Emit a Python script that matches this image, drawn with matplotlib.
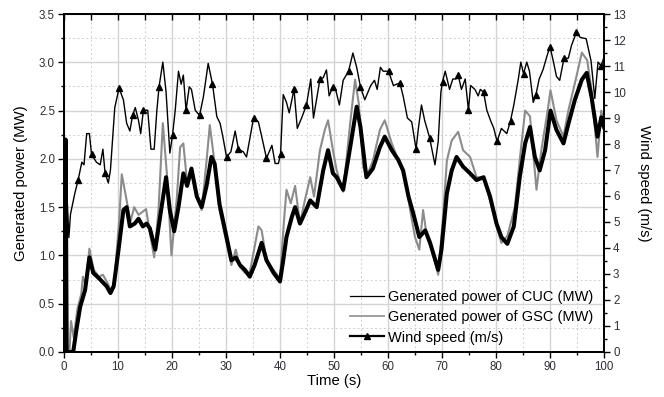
#! python3
# wind_power.py - generated power of CUC / GSC against wind speed over 100 s

import matplotlib
matplotlib.use('Agg')
import matplotlib.pyplot as plt
import matplotlib.ticker as ticker
from matplotlib.lines import Line2D

# wind speed (m/s)
wind_t = [0, 0.5, 0.9, 1.2, 2.0, 2.6, 3.3, 3.7, 4.2, 4.7, 5.1, 6.0, 6.7, 7.2, 7.6, 8.2, 8.6, 9.4,
          10.2, 11.0, 11.6, 12.2, 12.7, 13.2, 13.8, 14.2, 14.7, 15.5, 16.1, 16.7, 17.2, 17.6, 18.3,
          18.9, 19.6, 20.1, 20.6, 21.2, 21.7, 22.1, 22.6, 23.2, 23.6, 24.3, 25.1, 25.8, 26.7, 27.5,
          28.3, 28.9, 29.4, 30.1, 30.9, 31.7, 32.3, 33.2, 33.8, 35.1, 36.0, 36.6, 37.5, 38.5, 39.1,
          39.7, 40.1, 40.6, 41.2, 41.7, 42.6, 43.2, 44.0, 44.9, 45.7, 46.2, 47.0, 47.4, 48.0, 48.6,
          49.1, 49.8, 50.3, 51.0, 51.7, 52.7, 53.5, 54.2, 54.9, 55.7, 56.8, 57.5, 58.0, 58.6, 59.1,
          60.1, 61.0, 62.2, 62.8, 63.6, 64.4, 65.2, 65.6, 66.2, 66.8, 67.7, 68.7, 69.3, 69.8, 70.1,
          70.6, 71.4, 72.0, 72.6, 73.0, 73.6, 74.3, 74.9, 75.3, 76.1, 76.7, 77.1, 77.7, 78.3, 79.0,
          79.6, 80.2, 81.0, 82.0, 82.7, 83.3, 84.1, 84.6, 85.1, 85.7, 86.2, 86.9, 87.4, 88.0, 88.7,
          89.4, 90.0, 90.6, 91.2, 91.8, 92.6, 93.4, 94.0, 94.9, 95.6, 96.7, 97.6, 98.3, 98.9, 99.5, 100]
wind = [6.5, 6.3, 4.4, 5.3, 6.1, 6.6, 7.3, 7.2, 8.4, 8.4, 7.6, 7.3, 7.2, 7.8, 6.9, 6.5, 7.0, 9.4,
        10.15, 9.7, 8.8, 8.5, 9.1, 9.4, 8.9, 8.4, 9.3, 9.3, 7.8, 7.8, 9.3, 10.2, 11.15,
        10.0, 7.65, 8.35, 9.3, 10.8, 10.3, 10.65, 9.3, 10.2, 10.1, 9.3, 9.1, 9.8, 11.1, 10.3,
        9.05, 8.8, 8.3, 7.5, 7.7, 8.5, 7.8, 7.7, 7.5, 9.0, 8.85, 8.3, 7.45, 7.95, 7.25,
        7.25, 7.6, 9.9, 9.6, 9.2, 10.1, 8.6, 9.0, 9.5, 10.5, 9.0, 10.0, 10.5, 10.55, 10.85,
        9.85, 10.2, 10.1, 9.5, 10.45, 10.8, 11.5, 10.95, 10.2, 9.7, 10.25, 10.45, 10.1, 10.95, 10.8,
        10.8, 10.25, 10.35, 9.85, 9.0, 8.85, 7.8, 8.55, 9.5, 8.9, 8.25, 7.2, 8.1, 10.0, 10.4,
        10.8, 10.1, 10.5, 10.5, 10.65, 10.1, 10.5, 9.3, 10.25, 10.1, 9.85, 10.1, 10.0, 9.3, 8.9,
        8.6, 8.1, 8.6, 8.4, 8.9, 9.5, 10.45, 11.15, 10.7, 11.15, 10.8, 9.6, 9.9, 10.5, 10.85,
        11.35, 11.75, 11.2, 10.6, 10.45, 11.3, 11.3, 11.8, 12.3, 12.1, 12.05, 11.2, 9.75, 11.15, 11.0, 11.35]
# times where the triangle markers sit
wind_marks = [2.6, 5.1, 7.6, 10.2, 12.7, 14.7, 17.6, 20.1, 22.6, 25.1, 27.5, 30.1, 32.3, 35.1,
              37.5, 40.1, 42.6, 44.9, 47.4, 49.8, 52.7, 54.9, 60.1, 62.2, 65.2, 67.7, 70.1, 73.0,
              74.9, 77.7, 80.2, 82.7, 85.1, 87.4, 90.0, 92.6, 94.9, 99.5]

# generated power of CUC (MW)
cuc_t = [0, 0.3, 0.5, 1.7, 2.3, 3.0, 3.9, 4.7, 5.4, 6.7, 7.9, 8.6, 9.2, 10.1, 11.0, 11.6, 12.2,
         13.1, 13.8, 14.6, 15.3, 15.9, 16.9, 17.8, 18.9, 19.6, 20.4, 21.2, 22.1, 22.8, 23.6, 24.6,
         25.5, 26.4, 27.3, 27.9, 28.8, 30.1, 31.0, 31.8, 32.6, 33.5, 34.4, 35.3, 36.6, 37.5, 38.8,
         40.0, 40.6, 41.2, 42.2, 42.8, 43.7, 44.6, 45.6, 46.8, 48.0, 48.9, 49.8, 50.5, 51.7, 53.0,
         54.2, 54.9, 56.0, 57.2, 58.5, 59.4, 60.7, 61.9, 62.8, 63.8, 64.7, 65.8, 66.9, 67.8, 69.3,
         69.9, 70.9, 71.8, 72.7, 73.9, 75.2, 76.4, 77.7, 78.9, 80.1, 81.0, 82.1, 83.3, 84.4, 85.4,
         86.3, 87.2, 88.1, 89.1, 90.1, 91.2, 92.5, 93.4, 94.6, 95.9, 96.8, 97.7, 98.8, 99.5, 100]
cuc = [0, 2.2, 0, 0, 0.23, 0.47, 0.64, 0.98, 0.82, 0.75, 0.68, 0.61, 0.68, 1.06, 1.47, 1.5, 1.3,
       1.33, 1.38, 1.3, 1.33, 1.28, 1.06, 1.4, 1.81, 1.47, 1.25, 1.5, 1.85, 1.72, 1.9, 1.61,
       1.5, 1.72, 2.02, 1.95, 1.53, 1.19, 0.95, 0.98, 0.9, 0.85, 0.78, 0.9, 1.13, 0.95, 0.82,
       0.73, 0.95, 1.19, 1.4, 1.5, 1.33, 1.44, 1.57, 1.5, 1.88, 2.09, 1.85, 1.81, 1.68, 2.12,
       2.54, 2.33, 1.81, 1.9, 2.12, 2.23, 2.09, 1.99, 1.88, 1.61, 1.43, 1.19, 1.26, 1.13, 0.85,
       1.06, 1.64, 1.88, 2.02, 1.92, 1.85, 1.78, 1.81, 1.61, 1.33, 1.19, 1.12, 1.3, 1.81, 2.16,
       2.33, 2.02, 1.88, 2.09, 2.5, 2.3, 2.16, 2.36, 2.61, 2.82, 2.89, 2.64, 2.23, 2.43, 2.33]

# generated power of GSC (MW)
gsc_t = [0, 1.0, 1.3, 1.8, 2.5, 3.2, 3.5, 4.0, 4.7, 5.5, 6.5, 7.2, 8.0, 8.7, 9.3, 10.2, 10.7,
         11.5, 12.3, 13.0, 13.8, 14.5, 15.2, 16.0, 16.7, 17.5, 18.3, 19.1, 19.9, 20.9, 21.5, 22.1,
         22.8, 23.6, 24.6, 25.5, 26.4, 27.0, 27.9, 28.8, 30.1, 31.0, 31.8, 32.6, 33.5, 34.4, 36.0,
         36.6, 37.5, 38.8, 40.0, 40.7, 41.2, 42.0, 42.8, 43.7, 44.6, 45.6, 46.3, 47.4, 48.3, 48.9,
         49.8, 50.5, 51.7, 53.0, 53.9, 54.6, 55.4, 56.0, 57.2, 58.5, 59.4, 60.7, 61.9, 63.1, 64.1,
         65.0, 65.8, 66.5, 67.2, 68.1, 69.3, 70.2, 70.9, 71.8, 73.0, 73.9, 75.2, 76.4, 77.7, 78.9,
         80.1, 81.0, 82.1, 83.5, 84.4, 85.4, 86.3, 87.5, 88.4, 89.4, 90.1, 91.2, 92.5, 93.4, 94.6,
         95.9, 96.9, 97.7, 98.8, 99.5, 100]
gsc = [0, 0, 0.32, 0.15, 0.45, 0.6, 0.78, 0.7, 1.07, 0.85, 0.78, 0.8, 0.72, 0.64, 0.72, 1.35, 1.84,
       1.6, 1.35, 1.5, 1.42, 1.45, 1.48, 1.2, 0.98, 1.47, 2.37, 1.81, 1.0, 1.6, 2.12, 2.16,
       1.75, 1.85, 1.61, 1.47, 1.98, 2.35, 1.95, 1.47, 1.13, 0.9, 1.06, 0.88, 0.82, 0.82, 1.3,
       1.26, 0.95, 0.85, 0.76, 1.33, 1.68, 1.54, 1.72, 1.33, 1.57, 1.81, 1.61, 2.09, 2.3, 2.4,
       2.09, 1.88, 1.66, 2.37, 2.82, 2.57, 1.92, 1.81, 1.98, 2.3, 2.4, 2.16, 1.99, 1.81, 1.47,
       1.19, 1.06, 1.47, 1.19, 1.06, 0.8, 1.4, 1.98, 2.19, 2.28, 2.09, 2.02, 1.81, 1.81, 1.57,
       1.3, 1.13, 1.2, 1.5, 1.99, 2.5, 2.44, 1.68, 2.09, 2.44, 2.71, 2.4, 2.23, 2.5, 2.78,
       3.1, 3.02, 2.71, 2.02, 2.5, 2.37]

labels = ['Generated power of CUC (MW)', 'Generated power of GSC (MW)', 'Wind speed (m/s)']


def main():
    plt.rcParams['font.family'] = ['Liberation Sans', 'DejaVu Sans']
    fig = plt.figure(figsize=(6.64, 3.97), dpi=100)
    ax = fig.add_axes([0.0964, 0.1134, 0.8132, 0.8513])
    ax2 = ax.twinx()

    # power curves
    ax.plot(gsc_t, gsc, color='#8c8c8c', lw=1.5, zorder=3)
    ax.plot(cuc_t, cuc, color='black', lw=2.9, zorder=4)

    ax.set_xlim(0, 100)
    ax.set_ylim(0, 3.5)
    ax.xaxis.set_major_locator(ticker.MultipleLocator(10))
    ax.xaxis.set_minor_locator(ticker.MultipleLocator(5))
    ax.yaxis.set_major_locator(ticker.MultipleLocator(0.5))
    ax.yaxis.set_minor_locator(ticker.MultipleLocator(0.25))
    ax.yaxis.set_major_formatter(ticker.FormatStrFormatter('%.1f'))
    ax.grid(True, which='major', color='#d4d4d4', lw=1.0, zorder=0)
    ax.grid(True, which='minor', color='#cfcfcf', lw=0.7, ls=(0, (2, 2.5)), zorder=0)
    ax.set_axisbelow(True)

    # wind speed on the right axis
    mark_idx = [wind_t.index(m) for m in wind_marks]
    ax2.plot(wind_t, wind, color='black', lw=1.0, marker='^', ms=4, markevery=mark_idx)
    ax2.set_ylim(0, 13)
    ax2.yaxis.set_major_locator(ticker.MultipleLocator(1))
    ax2.yaxis.set_minor_locator(ticker.MultipleLocator(0.5))

    tick_col = '#2e2e3a'
    for a in (ax, ax2):
        a.tick_params(which='major', direction='out', length=4.5, width=1.0, labelsize=8.3,
                      labelcolor=tick_col, pad=2)
        a.tick_params(which='minor', direction='out', length=2.5, width=1.0)
        for s in a.spines.values():
            s.set_linewidth(1.3)

    # top ticks point inward, no labels (drawn by the twin so they sit above the grid)
    ax2.xaxis.set_visible(True)
    ax2.tick_params(axis='x', which='both', top=True, bottom=False, direction='in',
                    length=4, width=1.0, labeltop=False, labelbottom=False)

    ax.set_xlabel('Time (s)', fontsize=10.7, labelpad=1)
    ax.set_ylabel('Generated power (MW)', fontsize=10.7, labelpad=8)
    ax2.set_ylabel('Wind speed (m/s)', fontsize=10.7, rotation=270, labelpad=18)

    handles = [Line2D([], [], color='black', lw=0.9),
               Line2D([], [], color='#a0a0a0', lw=1.4),
               Line2D([], [], color='black', lw=1.6, marker='^', ms=5)]
    ax2.legend(handles, labels, loc='lower left', bbox_to_anchor=(0.53, 0.022), frameon=False,
               fontsize=10.5, borderpad=0, borderaxespad=0, handlelength=2.3,
               handletextpad=0.3, labelspacing=0.44)

    fig.savefig('out.png', dpi=100)


if __name__ == '__main__':
    main()
